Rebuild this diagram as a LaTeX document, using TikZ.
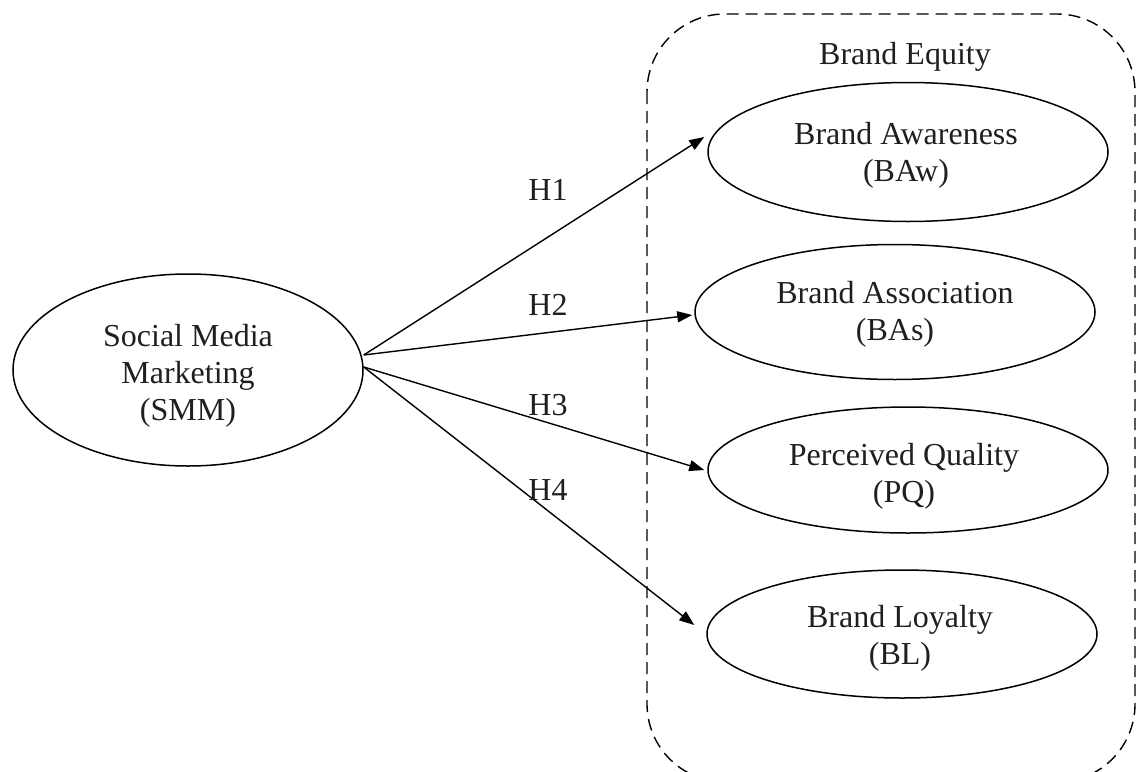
\documentclass[tikz,border=0pt]{standalone}
\usepackage{fontspec}
\setmainfont{Liberation Serif}
\usetikzlibrary{shapes.geometric,arrows.meta}
\begin{document}
\begin{tikzpicture}[x=1pt,y=-1pt,
  every node/.style={font=\fontsize{32}{37}\selectfont, text=black!88},
  construct/.style={draw, line width=1.5pt, ellipse, inner sep=0pt},
  lbl/.style={align=center, inner sep=0pt},
  hyp/.style={inner sep=0pt},
  link/.style={line width=1.4pt, -{Triangle[length=15pt,width=11pt]}},
  group/.style={draw, dashed, dash pattern=on 12pt off 7pt, line width=1.4pt, rounded corners=78pt}]
\useasboundingbox (0,0) rectangle (1137,771);
% container
\draw[group] (647,14) rectangle (1135,782);
\node[hyp] (be) at (905,57) {Brand Equity};
% ellipses
\node[construct, minimum width=350pt, minimum height=192pt] (smm) at (188,370) {};
\node[construct, minimum width=400pt, minimum height=139pt] (baw) at (908,152) {};
\node[construct, minimum width=400pt, minimum height=135pt] (bas) at (895,312) {};
\node[construct, minimum width=400pt, minimum height=126pt] (pq) at (908,470) {};
\node[construct, minimum width=390pt, minimum height=128pt] (bl) at (902,634) {};
% texts
\node[lbl] (smmt) at (188,376) {Social Media\\Marketing\\(SMM)};
\node[lbl] (bawt) at (906,155) {Brand Awareness\\(BAw)};
\node[lbl] (bast) at (895,314) {Brand Association\\(BAs)};
\node[lbl] (pqt) at (904,476) {Perceived Quality\\(PQ)};
\node[lbl] (blt) at (900,638) {Brand Loyalty\\(BL)};
% arrows
\draw[link] ([yshift=15pt]smm.east) -- ([xshift=-3pt,yshift=15pt]baw.west);
\draw[link] ([yshift=15pt]smm.east) -- ([xshift=-2pt,yshift=-3pt]bas.west);
\draw[link] ([yshift=3pt]smm.east) -- ([xshift=-3pt]pq.west);
\draw[link] ([yshift=3pt]smm.east) -- ([xshift=-12pt,yshift=9pt]bl.west);
% hypothesis labels
\node[hyp] (h1) at (548,190) {H1};
\node[hyp] (h2) at (548,305) {H2};
\node[hyp] (h3) at (548,405) {H3};
\node[hyp] (h4) at (548,490) {H4};
\end{tikzpicture}
\end{document}
